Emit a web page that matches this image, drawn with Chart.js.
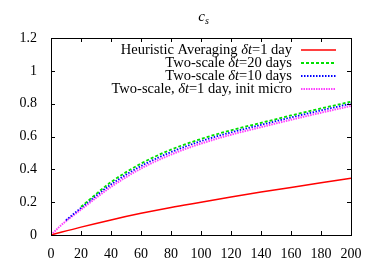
<!DOCTYPE html>
<html>
<head>
<meta charset="utf-8">
<script src="https://cdn.jsdelivr.net/npm/chart.js@4"></script>
<style>
  html, body { margin: 0; padding: 0; background: #fff; }
  #wrap { width: 374px; height: 262px; }
</style>
</head>
<body>
<div id="wrap"><canvas id="chart" width="374" height="262"></canvas></div>
<script>
// values
const redDays = [0, 20, 40, 60, 80, 100, 120, 140, 160, 180, 200];
const redValues = [0, 0.048, 0.092, 0.132, 0.168, 0.2, 0.232, 0.262, 0.29, 0.318, 0.346];

const greenDays = [20, 40, 60, 80, 100, 120, 140, 160, 180, 200];
const greenValues = [0.172, 0.322, 0.435, 0.52, 0.585, 0.638, 0.683, 0.728, 0.771, 0.812];

const blueDays = [10, 20, 40, 60, 80, 100, 120, 140, 160, 180, 200];
const blueValues = [0.09, 0.165, 0.308, 0.42, 0.505, 0.572, 0.625, 0.671, 0.716, 0.759, 0.8];

const pinkDays = [0, 5, 10, 20, 40, 60, 80, 100, 120, 140, 160, 180, 200];
const pinkValues = [0, 0.045, 0.085, 0.155, 0.293, 0.405, 0.49, 0.557, 0.611, 0.657, 0.702, 0.745, 0.786];

const seriesLabels = [
    'Heuristic Averaging δt=1 day',
    'Two-scale δt=20 days',
    'Two-scale δt=10 days',
    'Two-scale, δt=1 day, init micro'
];

const xTicks = [0, 20, 40, 60, 80, 100, 120, 140, 160, 180, 200];
const yTicks = [0, 0.2, 0.4, 0.6, 0.8, 1, 1.2];
const yTickLabels = ['0', '0.2', '0.4', '0.6', '0.8', '1', '1.2'];

const FONT = '"Liberation Serif", "DejaVu Serif", serif';

function toPoints(days, values) {
    return days.map((d, i) => ({ x: d, y: values[i] }));
}

// gnuplot-like frame, inward ticks, title and key
const gnuplotDecor = {
    id: 'gnuplotDecor',
    afterDatasetsDraw(chart) {
        const ctx = chart.ctx;
        const a = chart.chartArea;
        const xs = chart.scales.x, ys = chart.scales.y;
        ctx.save();
        ctx.strokeStyle = '#000';
        ctx.lineWidth = 1;
        ctx.strokeRect(a.left + 0.5, a.top + 0.5, a.right - a.left, a.bottom - a.top);
        ctx.beginPath();
        xTicks.forEach(v => {
            const px = Math.round(xs.getPixelForValue(v)) + 0.5;
            ctx.moveTo(px, a.bottom); ctx.lineTo(px, a.bottom - 4);
            ctx.moveTo(px, a.top); ctx.lineTo(px, a.top + 4);
        });
        yTicks.forEach(v => {
            const py = Math.round(ys.getPixelForValue(v)) + 0.5;
            ctx.moveTo(a.left, py); ctx.lineTo(a.left + 4, py);
            ctx.moveTo(a.right, py); ctx.lineTo(a.right - 4, py);
        });
        ctx.stroke();

        // title c_s
        ctx.fillStyle = '#000';
        ctx.textBaseline = 'alphabetic';
        ctx.font = 'italic 15px ' + FONT;
        const cx = (a.left + a.right) / 2 + 3;
        ctx.textAlign = 'right';
        ctx.fillText('c', cx + 1, 21);
        ctx.font = 'italic 10px ' + FONT;
        ctx.textAlign = 'left';
        ctx.fillText('s', cx + 1, 24);

        // key
        const textRight = a.right - 59;
        chart.data.datasets.forEach((ds, i) => {
            const y = a.top + 12 + i * 13;
            const parts = ds.label.split('δt');
            let x = textRight;
            ctx.textBaseline = 'middle';
            ctx.textAlign = 'right';
            for (let k = parts.length - 1; k >= 0; k--) {
                ctx.font = '14.5px ' + FONT;
                ctx.fillText(parts[k], x, y);
                x -= ctx.measureText(parts[k]).width;
                if (k > 0) {
                    ctx.font = 'italic 14.5px ' + FONT;
                    ctx.fillText('δt', x, y);
                    x -= ctx.measureText('δt').width;
                }
            }
            ctx.beginPath();
            ctx.strokeStyle = ds.borderColor;
            ctx.lineWidth = ds.borderWidth;
            ctx.setLineDash(ds.borderDash || []);
            ctx.moveTo(a.right - 50, y);
            ctx.lineTo(a.right - 15, y);
            ctx.stroke();
            ctx.setLineDash([]);
        });
        ctx.restore();
    }
};

new Chart(document.getElementById('chart').getContext('2d'), {
    type: 'line',
    data: {
        datasets: [
            { label: seriesLabels[0], data: toPoints(redDays, redValues), borderColor: '#ff0000', borderWidth: 1.5 },
            { label: seriesLabels[1], data: toPoints(greenDays, greenValues), borderColor: '#00e000', borderWidth: 1.8, borderDash: [3, 2] },
            { label: seriesLabels[2], data: toPoints(blueDays, blueValues), borderColor: '#0000ff', borderWidth: 1.8, borderDash: [1.5, 1.5] },
            { label: seriesLabels[3], data: toPoints(pinkDays, pinkValues), borderColor: '#ff40ff', borderWidth: 2, borderDash: [1.5, 1] }
        ]
    },
    options: {
        responsive: false,
        animation: false,
        devicePixelRatio: 1,
        cubicInterpolationMode: 'monotone',
        elements: { point: { radius: 0 } },
        layout: { padding: { top: 38, right: 23, left: 0, bottom: 0 } },
        plugins: { legend: { display: false }, tooltip: { enabled: false } },
        scales: {
            x: {
                type: 'linear', min: 0, max: 200,
                afterBuildTicks: s => { s.ticks = xTicks.map(v => ({ value: v })); },
                afterFit: s => { s.height = 27; },
                grid: { display: false },
                border: { display: false },
                ticks: { color: '#000', font: { family: FONT, size: 14 }, padding: 3, maxRotation: 0 }
            },
            y: {
                type: 'linear', min: 0, max: 1.2,
                afterBuildTicks: s => { s.ticks = yTicks.map(v => ({ value: v })); },
                afterFit: s => { s.width = 51; },
                grid: { display: false },
                border: { display: false },
                ticks: {
                    color: '#000', font: { family: FONT, size: 14 }, padding: 6,
                    callback: (v) => yTickLabels[yTicks.indexOf(v)] ?? v
                }
            }
        }
    },
    plugins: [gnuplotDecor]
});
</script>
</body>
</html>
